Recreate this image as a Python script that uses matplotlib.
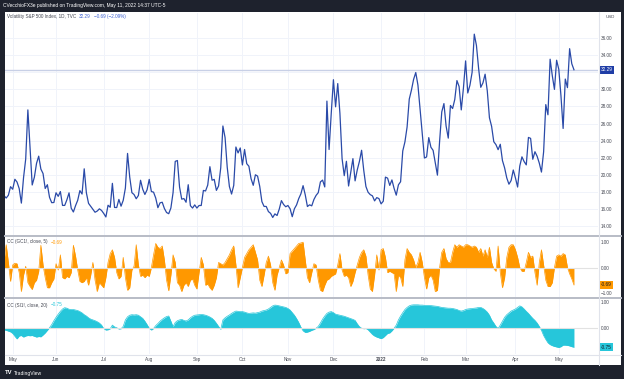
import numpy as np
import pandas as pd
import matplotlib
matplotlib.use('Agg')
import matplotlib.pyplot as plt
from matplotlib.patches import Rectangle
from matplotlib.lines import Line2D
import matplotlib.transforms as mtransforms

W, H = 624, 379

holidays = ['2021-05-31', '2021-07-05', '2021-09-06', '2021-11-25', '2021-12-24',
            '2022-01-17', '2022-02-21', '2022-04-15']
dates = pd.bdate_range('2021-04-27', '2022-05-11', freq='C', holidays=holidays)

vix = [17.56, 17.28, 17.61, 18.61,
       18.31, 19.48, 19.15, 18.39, 16.69, 19.66, 21.84, 27.59, 23.13, 18.81, 19.72, 21.34, 22.18, 20.67, 20.15, 18.40, 18.84, 17.36, 16.74, 16.76,
       17.90, 17.48, 18.04, 16.42, 16.42, 17.07, 17.89, 16.10, 15.65, 16.39, 17.02, 18.15, 17.75, 20.70, 17.89, 16.66, 16.32, 15.97, 15.62, 15.76, 16.02, 15.83,
       15.48, 15.07, 16.44, 16.20, 19.00, 16.18, 16.17, 17.12, 16.33, 17.01, 18.45, 22.50, 19.73, 17.91, 17.69, 17.20, 17.58, 19.36, 18.31, 17.70, 18.24,
       19.46, 18.04, 17.97, 17.28, 16.15, 16.72, 16.79, 16.06, 15.59, 15.45, 16.12, 17.91, 21.57, 21.67, 18.56, 17.15, 17.22, 16.79, 18.84, 16.39, 16.11, 16.48,
       16.11, 16.41, 16.41, 18.17, 18.11, 18.80, 20.95, 19.37, 19.46, 18.18, 18.69, 20.81, 25.71, 24.36, 20.87, 18.63, 17.75, 18.76, 23.25, 22.56, 23.14,
       21.15, 22.96, 21.30, 21.00, 19.54, 18.77, 20.00, 19.85, 18.64, 16.86, 16.30, 16.30, 15.70, 15.49, 15.01, 15.43, 15.24, 15.98, 16.98, 16.53, 16.26,
       16.41, 16.03, 15.10, 16.03, 16.48, 17.22, 17.78, 18.73, 17.66, 16.29, 16.49, 16.37, 17.11, 17.59, 17.91, 19.17, 19.38, 18.58, 28.62, 22.96, 27.19,
       31.12, 27.95, 30.67, 27.18, 21.89, 19.90, 21.58, 18.69, 20.31, 21.89, 19.29, 20.57, 21.57, 22.87, 20.52, 18.63, 17.96, 17.68, 17.54, 16.95, 17.33, 17.22,
       16.60, 16.91, 19.73, 19.61, 18.76, 19.40, 18.41, 17.62, 18.83, 19.19, 22.79, 23.85, 25.59, 28.85, 29.90, 31.16, 31.96, 30.49, 27.66, 24.83,
       21.96, 22.09, 24.35, 23.22, 22.86, 21.44, 19.96, 23.91, 27.36, 28.33, 25.70, 24.29, 28.11, 27.75, 28.81, 31.02, 30.32, 27.59, 30.15,
       33.32, 29.57, 30.48, 31.98, 36.45, 35.13, 32.45, 30.23, 30.75, 31.77, 29.83, 26.67, 25.67, 23.87, 23.53, 22.94, 23.57, 21.67, 20.81, 19.63, 18.90, 19.33, 20.56,
       19.63, 18.57, 21.03, 22.10, 21.55, 21.16, 24.37, 24.26, 21.82, 22.70, 22.17, 21.37, 20.32, 22.68, 28.21, 27.02, 33.52, 31.60, 29.99, 33.40,
       32.34, 29.25, 25.42, 31.20, 30.19, 34.75, 32.99, 32.29]

cc_gold = [0.3, 0.9, 0.2, -0.55, 0.1, 0.17, 0.15, -0.2, -0.95, -0.3,
           0.05, -0.6, -0.75, -0.87, -0.6, -0.5, -0.15, 0.88, 0.1, -0.4,
           -0.8, -0.8, -0.6, -0.45, 0.15, -0.1, 0.5, -0.4, -0.45, -0.35,
           -0.4, -0.2, 0.88, 0.45, -0.1, -0.55, -0.6, -0.55, -0.4, -0.7,
           -0.3, 0.2, -0.5, -0.95, -0.6, -0.7, -0.8, -0.4, 0.2, 0.55,
           0.7, 0.4, -0.2, -0.45, -0.35, 0.4, -0.4, -0.9, -0.8, -0.1,
           0.05, 0.9, 0.1, -0.35, -0.3, -0.4, -0.3, -0.35, 0.0, 0.5,
           0.95, 0.8, 0.75, 0.85, 0.3, -0.5, -0.92, -0.3, 0.5, 0.2,
           -0.6, -0.7, -0.95, -0.7, -0.6, -0.75, -0.5, -0.45, -0.7, -0.85,
           -0.2, 0.4, 0.1, -0.7, -0.65, -0.8, -0.9, -0.7, -0.4, 0.2,
           0.15, 0.1, 0.2, 0.35, 0.5, 0.7, 0.85, 0.1, -0.8, -0.4,
           0.0, 0.4, 0.55, 0.7, 0.8, 0.9, 0.6, 0.3, -0.5, -0.75,
           -0.3, 0.2, 0.45, 0.1, -0.6, -0.9, -0.3, 0.0, 0.3, 0.1,
           -0.25, -0.2, 0.55, 0.65, 0.75, 0.85, 0.95, 0.97, 1.0, 0.3,
           -0.4, -0.6, -0.2, 0.15, 0.1, -0.5, -0.9, -0.95, -0.7, -0.5,
           -0.45, -0.35, -0.3, -0.25, 0.1, 0.55, -0.1, -0.35, -0.3, -0.4,
           -0.75, -0.55, -0.2, 0.1, 0.4, 0.6, 0.7, 0.45, -0.3, -0.85,
           -0.95, -0.3, 0.5, -0.1, 0.7, 0.75, 0.4, -0.2, -0.15, -0.2,
           -0.25, -0.95, -0.3, -0.4, -0.75, 0.3, 0.75, 0.6, 0.5, 0.3,
           0.0, 0.2, 0.6, 0.2, -0.4, -0.85, -0.4, -0.3, -0.5, -0.95,
           -0.9, 0.0, 0.6, 0.75, 0.35, 0.2, 0.2, 0.6, 0.9, 0.8,
           0.9, 0.85, 0.8, 0.9, 0.9, 0.85, 0.8, 0.85, 0.8, 0.6,
           0.75, 0.45, 0.7, 0.4, 0.8, 0.2, -0.05, -0.15, 0.85, -0.2,
           -0.8, -0.4, 0.4, 0.8, 0.9, 0.9, 0.7, 0.4, 0.0, -0.15,
           -0.15, 0.2, 0.6, 0.4, 0.45, -0.2, -0.7, 0.2, 0.7, 0.1,
           -0.5, -0.75, -0.75, -0.6, 0.0, 0.45, 0.5, 0.45, 0.55, 0.5,
           0.0, -0.25, -0.45, -0.69]

cc_silver = [-0.08, -0.1, -0.13, -0.16, -0.22, -0.33, -0.43, -0.32, -0.3, -0.36,
             -0.32, -0.3, -0.31, -0.3, -0.33, -0.36, -0.34, -0.35, -0.28, -0.2,
             -0.1, 0.0, 0.12, 0.27, 0.4, 0.52, 0.63, 0.72, 0.77, 0.75,
             0.71, 0.7, 0.7, 0.68, 0.66, 0.62, 0.57, 0.5, 0.45, 0.38,
             0.33, 0.3, 0.27, 0.23, 0.18, 0.1, -0.03, -0.09, -0.08, -0.04,
             0.1, 0.03, 0.0, -0.05, -0.04, 0.05, 0.3, 0.42, 0.48, 0.5,
             0.49, 0.5, 0.48, 0.42, 0.36, 0.25, 0.12, -0.02, -0.09, -0.03,
             0.08, 0.16, 0.25, 0.32, 0.38, 0.43, 0.45, 0.25, 0.04, 0.2,
             0.27, 0.3, 0.32, 0.28, 0.26, 0.3, 0.38, 0.44, 0.48, 0.49,
             0.5, 0.51, 0.5, 0.48, 0.45, 0.41, 0.36, 0.28, 0.17, 0.05,
             -0.06, 0.3, 0.38, 0.44, 0.49, 0.55, 0.6, 0.64, 0.63, 0.62,
             0.62, 0.6, 0.57, 0.55, 0.56, 0.57, 0.56, 0.58, 0.6, 0.64,
             0.66, 0.68, 0.72, 0.78, 0.84, 0.87, 0.86, 0.84, 0.82, 0.8,
             0.78, 0.74, 0.68, 0.58, 0.48, 0.35, 0.2, 0.02, -0.12, -0.18,
             -0.17, -0.14, -0.1, -0.07, -0.02, 0.05, 0.18, 0.33, 0.45, 0.55,
             0.6, 0.62, 0.58, 0.52, 0.5, 0.48, 0.46, 0.44, 0.41, 0.38,
             0.35, 0.32, 0.28, 0.15, 0.04, -0.02, -0.04, -0.03, -0.08, -0.17,
             -0.26, -0.32, -0.36, -0.39, -0.42, -0.38, -0.3, -0.22, -0.2, -0.12,
             -0.02, 0.1, 0.3, 0.45, 0.58, 0.7, 0.78, 0.84, 0.87, 0.88,
             0.88, 0.88, 0.87, 0.87, 0.86, 0.86, 0.86, 0.85, 0.84, 0.83,
             0.82, 0.8, 0.78, 0.77, 0.76, 0.75, 0.75, 0.74, 0.72, 0.7,
             0.66, 0.64, 0.66, 0.7, 0.72, 0.73, 0.74, 0.75, 0.76, 0.78,
             0.78, 0.74, 0.68, 0.6, 0.48, 0.3, 0.18, 0.05, -0.03, 0.1,
             0.25, 0.4, 0.5, 0.57, 0.64, 0.68, 0.72, 0.78, 0.84, 0.8,
             0.72, 0.63, 0.55, 0.45, 0.36, 0.28, 0.18, 0.05, -0.1, -0.3,
             -0.45, -0.58, -0.65, -0.69, -0.72, -0.74, -0.76, -0.73, -0.67, -0.67,
             -0.68, -0.7, -0.73, -0.75]

month_labels = ['May', 'Jun', 'Jul', 'Aug', 'Sep', 'Oct', 'Nov', 'Dec', '2022', 'Feb', 'Mar', 'Apr', 'May']
price_ticks = [14, 16, 18, 20, 22, 24, 26, 28, 30, 32, 34, 36]

n = min(len(vix), len(cc_gold), len(cc_silver), len(dates))
x = np.arange(n)
vix = np.array(vix[:n]); cc_gold = np.array(cc_gold[:n]); cc_silver = np.array(cc_silver[:n])
dts = dates[:n]

# first trading day of each month
mkeys = [(d.year, d.month) for d in dts]
month_idx = []
seen = set()
for i, k in enumerate(mkeys):
    if k not in seen:
        seen.add(k)
        if not (k[0] == 2021 and k[1] == 4):
            month_idx.append(i)

FONT = 'Liberation Sans'
DARK = '#1e222d'
TXT = '#434651'
GRID = '#f0f3fa'
BLUE = '#2a4aa8'
ORANGE = '#ff9800'
TEAL = '#26c6da'

fig = plt.figure(figsize=(W / 100, H / 100), dpi=100)
fig.patch.set_facecolor(DARK)
fig.add_artist(Rectangle((5 / W, 1 - 365 / H), (621 - 5) / W, (365 - 12) / H,
                         transform=fig.transFigure, facecolor='white', edgecolor='none', zorder=0))


def ax_at(x0, y0, x1, y1):
    a = fig.add_axes([x0 / W, 1 - y1 / H, (x1 - x0) / W, (y1 - y0) / H])
    a.set_facecolor('none')
    for s in a.spines.values():
        s.set_visible(False)
    return a


# pixel mapping of index: x = 12.7 + (i-4)*2.167
i_left = 4 + (5 - 12.7) / 2.167
i_right = 4 + (598 - 12.7) / 2.167

main = ax_at(5, 13, 598, 235)
ora = ax_at(5, 236.5, 598, 297.5)
tea = ax_at(5, 299, 598, 354)

for a in (main, ora, tea):
    a.set_xlim(i_left, i_right)
    a.set_xticks(month_idx)
    for mi in month_idx:
        a.axvline(mi, color=GRID, lw=0.7, zorder=0)
    a.tick_params(axis='both', length=0, labelsize=3.3, labelcolor=TXT, pad=2)
    a.yaxis.tick_right()

main.set_xticklabels([])
ora.set_xticklabels([])

# main pane
main.set_ylim(36 - (235 - 38) / 8.55, 36 + (38 - 13) / 8.55)
for p in price_ticks:
    main.axhline(p, color=GRID, lw=0.7, zorder=0)
main.set_yticks([p for p in price_ticks if p != 32])
main.set_yticklabels([f'{p:.2f}' for p in price_ticks if p != 32], family=FONT)
main.axhline(vix[-1], color='#c8d0e6', lw=1.0, zorder=1)
main.plot(x, vix, color=BLUE, lw=0.9, zorder=3, solid_joinstyle='round')

blend = mtransforms.blended_transform_factory(main.transAxes, main.transData)
main.text(1.004, vix[-1], f'{vix[-1]:.2f}', transform=blend, ha='left', va='center',
          fontsize=3.4, color='white', family=FONT,
          bbox=dict(boxstyle='square,pad=0.35', fc='#1f3da6', ec='none'))

# orange pane
ora.set_ylim(-(297.5 - 267.5) / 25.3, (267.5 - 236.5) / 25.3)
ora.fill_between(x, 0, cc_gold, color=ORANGE, lw=0, zorder=2)
ora.plot(x, cc_gold, color=ORANGE, lw=0.5, zorder=2)
ora.axhline(0, color='#e2e2e2', lw=0.8, zorder=3)
ora.set_yticks([1, 0, -1])
ora.set_yticklabels(['1.00', '0.00', '\u22121.00'], family=FONT)
blend = mtransforms.blended_transform_factory(ora.transAxes, ora.transData)
ora.text(1.004, cc_gold[-1], f'{cc_gold[-1]:.2f}', transform=blend, ha='left', va='center',
         fontsize=3.4, color='#131722', family=FONT,
         bbox=dict(boxstyle='square,pad=0.35', fc=ORANGE, ec='none'))

# teal pane
tea.set_ylim(-(354 - 327.7) / 26, (327.7 - 299) / 26)
tea.fill_between(x, 0, cc_silver, color=TEAL, lw=0, zorder=2)
tea.plot(x, cc_silver, color=TEAL, lw=0.5, zorder=2)
tea.axhline(0, color='#e2e2e2', lw=0.8, zorder=3)
tea.set_yticks([1, 0])
tea.set_yticklabels(['1.00', '0.00'], family=FONT)
blend = mtransforms.blended_transform_factory(tea.transAxes, tea.transData)
tea.text(1.004, cc_silver[-1], f'{cc_silver[-1]:.2f}', transform=blend, ha='left', va='center',
         fontsize=3.4, color='#131722', family=FONT,
         bbox=dict(boxstyle='square,pad=0.35', fc=TEAL, ec='none'))

tea.set_xticklabels(month_labels, family=FONT)
for lab in tea.get_xticklabels():
    if lab.get_text() == '2022':
        lab.set_fontweight('bold')

# separators / axis lines
def fig_line(x0, y0, x1, y1, color, lw):
    fig.add_artist(Line2D([x0 / W, x1 / W], [1 - y0 / H, 1 - y1 / H], transform=fig.transFigure,
                          color=color, lw=lw, zorder=5))

fig_line(5, 235.5, 621, 235.5, '#b8bcc6', 1.4)
fig_line(5, 298, 621, 298, '#b8bcc6', 1.4)
fig_line(598.5, 12, 598.5, 365, '#e0e3eb', 0.8)
fig_line(5, 354.5, 621, 354.5, '#e0e3eb', 0.8)

renderer = fig.canvas.get_renderer()


def seq_text(x_px, y_px, parts, fs, weight='normal'):
    xx = x_px
    for s, c, gap in parts:
        t = fig.text(xx / W, 1 - y_px / H, s, color=c, fontsize=fs, family=FONT,
                     va='center', ha='left', fontweight=weight, zorder=6)
        bb = t.get_window_extent(renderer)
        xx = xx + bb.width + gap


seq_text(3, 6, [('CVecchioFX3e published on TradingView.com, May 11, 2022 14:37 UTC-5', 'white', 0)], 3.5)
seq_text(7, 16.5, [('Volatility S&P 500 Index, 1D, TVC', TXT, 3),
                   ('32.29', '#3a5fd0', 3),
                   ('\u22120.69 (\u22122.09%)', '#3a5fd0', 0)], 3.3)
seq_text(7, 242, [('CC (GC1!, close, 5)', TXT, 3), ('\u22120.69', ORANGE, 0)], 3.3)
seq_text(7, 305, [('CC (SI1!, close, 20)', TXT, 3), ('\u22120.75', TEAL, 0)], 3.3)
fig.text(606 / W, 1 - 16.5 / H, 'USD', fontsize=3.2, color=TXT, family=FONT, va='center', ha='left')
seq_text(5, 373, [('TV', 'white', 2)], 4.2, weight='bold')
fig.text(14 / W, 1 - 373 / H, 'TradingView', fontsize=3.6, color='white', family=FONT, va='center', ha='left')

fig.savefig('out.png', dpi=100, facecolor=fig.get_facecolor())
